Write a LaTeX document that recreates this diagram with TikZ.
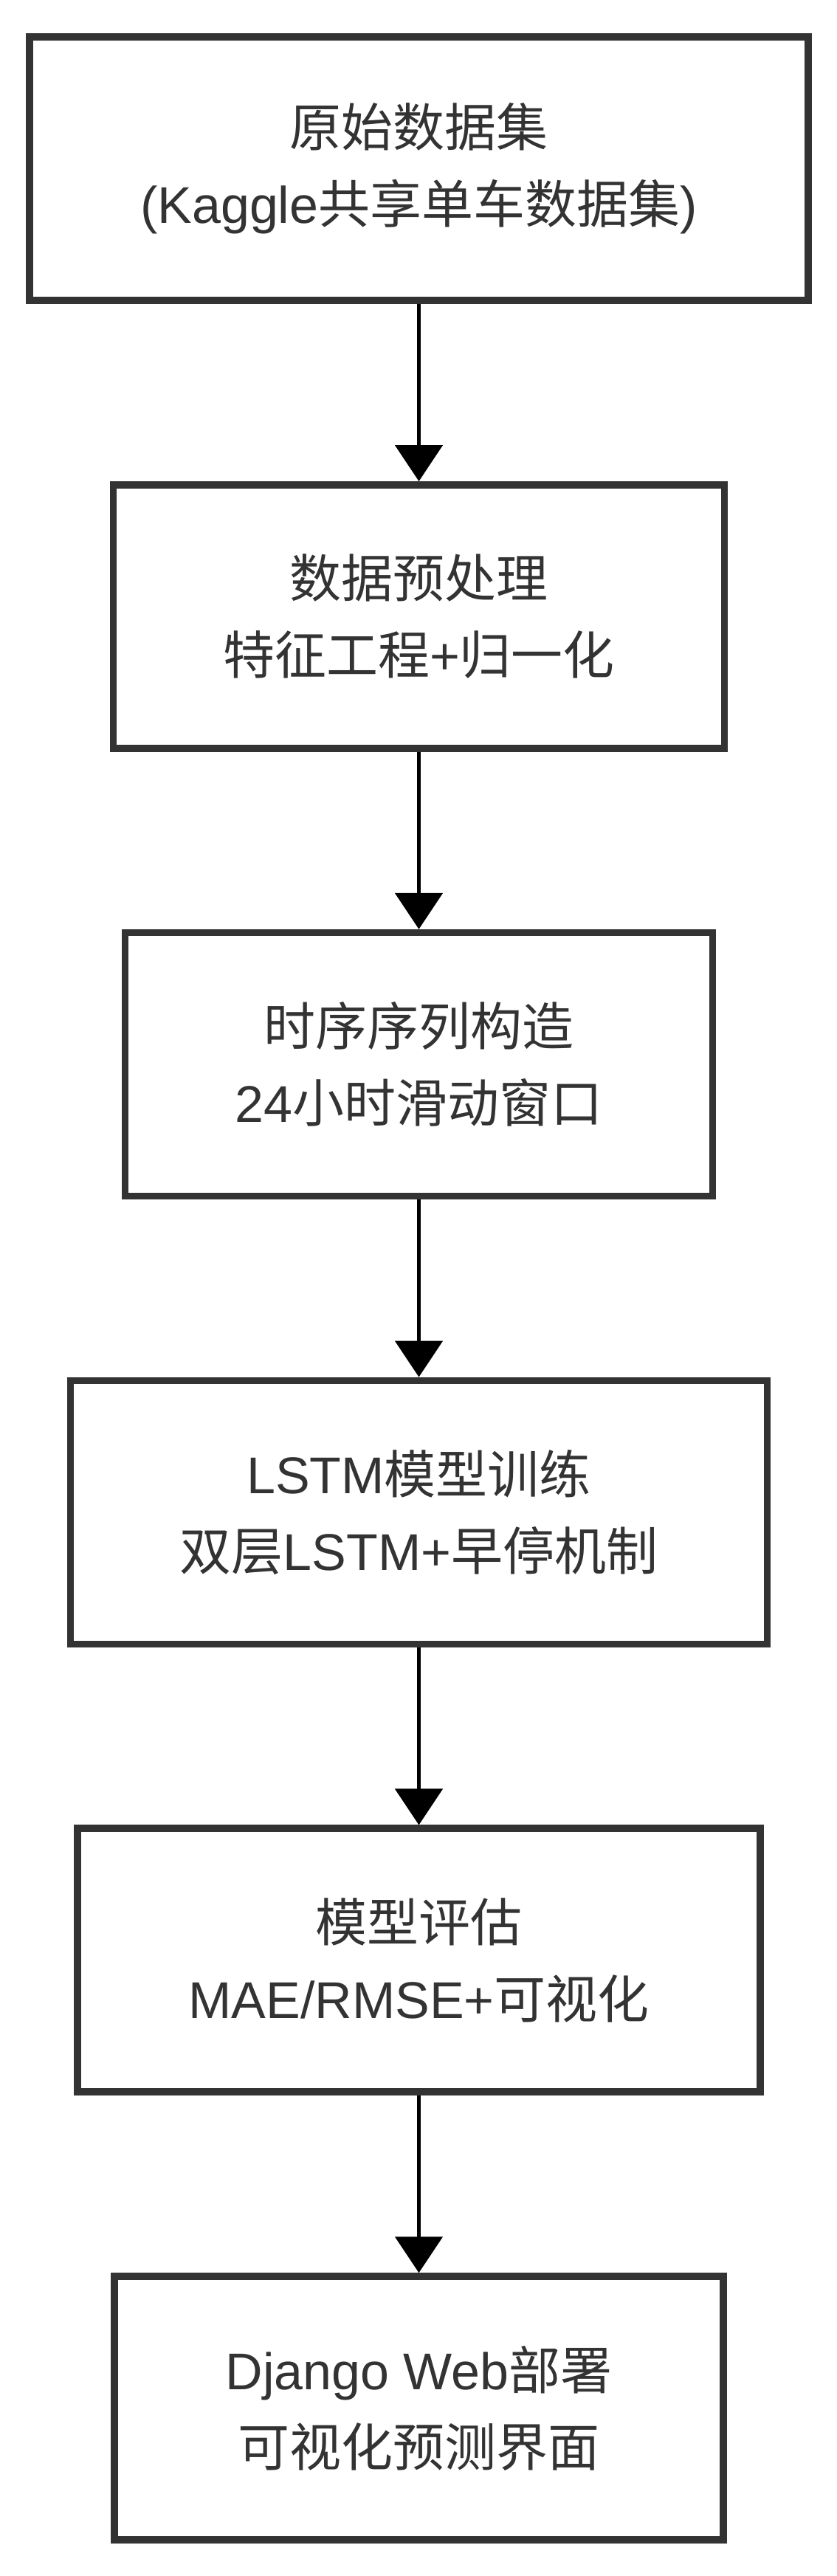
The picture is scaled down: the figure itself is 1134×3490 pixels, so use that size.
\documentclass[tikz,border=0pt]{standalone}
\usepackage{fontspec}
\setmainfont{Liberation Sans}
\newfontfamily\cjk{Noto Sans CJK SC}
\newcommand{\zh}[1]{{\cjk #1}}
\usetikzlibrary{arrows.meta}
\definecolor{boxgray}{HTML}{333333}
\tikzset{
	stepbox/.style={draw=boxgray, line width=9.5pt, fill=white, minimum height=357pt, align=center, text=boxgray, font=\fontsize{70}{104}\selectfont},
	flowarrow/.style={draw=black, line width=5pt, -{Triangle[width=64pt,length=49pt]}}
}

\begin{document}
\begin{tikzpicture}[x=1pt,y=-1pt]
	\useasboundingbox (0,0) rectangle (1134,3490);
	% raw data
	\node[stepbox, minimum width=1055pt] (raw) at (567.5,228.5) {\zh{原始数据集}\\(Kaggle\zh{共享单车数据集})};
	% preprocessing
	\node[stepbox, minimum width=828pt] (prep) at (567.5,835.3) {\zh{数据预处理}\\\zh{特征工程}+\zh{归一化}};
	% sliding window
	\node[stepbox, minimum width=796pt] (seq) at (567.5,1442.1) {\zh{时序序列构造}\\24\zh{小时滑动窗口}};
	% training
	\node[stepbox, minimum width=944pt] (train) at (567.5,2048.9) {LSTM\zh{模型训练}\\\zh{双层}LSTM+\zh{早停机制}};
	% evaluation
	\node[stepbox, minimum width=925pt] (eval) at (567.5,2655.7) {\zh{模型评估}\\MAE/RMSE+\zh{可视化}};
	% web deployment
	\node[stepbox, minimum width=825pt] (web) at (567.5,3262.5) {Django Web\zh{部署}\\\zh{可视化预测界面}};
	% arrows
	\draw[flowarrow] (raw) -- (prep);
	\draw[flowarrow] (prep) -- (seq);
	\draw[flowarrow] (seq) -- (train);
	\draw[flowarrow] (train) -- (eval);
	\draw[flowarrow] (eval) -- (web);
\end{tikzpicture}
\end{document}
